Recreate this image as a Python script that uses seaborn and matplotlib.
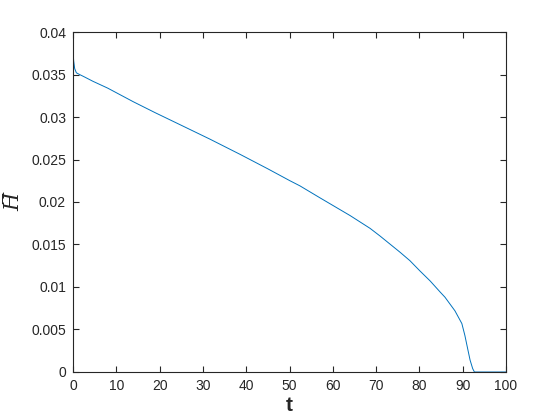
"""
plot.py
Curva de H promedio frente a t (estilo MATLAB) recreada con seaborn.
"""

import pandas as pd
import matplotlib
matplotlib.use('Agg')
import matplotlib.pyplot as plt
import seaborn as sns

# Datos
t_vals = [0.0, 0.15, 0.38, 0.77, 1.5, 2.5, 4.6, 8.0, 13.9, 19.0, 24.7,
          31.6, 38.6, 45.0, 50.1, 52.4, 57.0, 64.0, 68.6, 70.9, 75.5, 77.8,
          80.1, 82.5, 84.8, 85.9, 88.2, 89.8, 90.5, 91.2, 91.7, 92.3, 92.7,
          100.0]
h_vals = [0.0377, 0.0366, 0.0357, 0.0352, 0.0350, 0.03475, 0.0342, 0.0334,
          0.0318, 0.0305, 0.0291, 0.0274, 0.0256, 0.0239, 0.0225, 0.0219,
          0.0205, 0.0184, 0.0169, 0.0160, 0.0141, 0.0131, 0.0119, 0.0107,
          0.0094, 0.0088, 0.0072, 0.0057, 0.0043, 0.0026, 0.0014, 0.0004,
          0.0, 0.0]

x_ticks = [0, 10, 20, 30, 40, 50, 60, 70, 80, 90, 100]
y_ticks = [0, 0.005, 0.01, 0.015, 0.02, 0.025, 0.03, 0.035, 0.04]
y_labels = ['0', '0.005', '0.01', '0.015', '0.02', '0.025', '0.03', '0.035', '0.04']

df = pd.DataFrame({'t': t_vals, 'H': h_vals})

sns.set_theme(style='ticks')
plt.rcParams['font.family'] = ['Liberation Sans', 'DejaVu Sans']

fig = plt.figure(figsize=(5.6, 4.2), dpi=100)
ax = fig.add_axes([0.1304, 0.1143, 0.7732, 0.8095])

sns.lineplot(data=df, x='t', y='H', ax=ax, color='#0072BD', linewidth=0.7)

ax.set_xlim(0, 100)
ax.set_ylim(0, 0.04)
ax.set_xticks(x_ticks)
ax.set_xticklabels([str(v) for v in x_ticks])
ax.set_yticks(y_ticks)
ax.set_yticklabels(y_labels)

axis_col = '#262626'
for s in ax.spines.values():
    s.set_visible(True)
    s.set_color(axis_col)
    s.set_linewidth(0.8)
ax.tick_params(direction='in', length=4, width=0.8, colors=axis_col,
               labelsize=10, top=True, right=True, pad=5)

ax.set_xlabel('t', fontsize=15, fontweight='bold', color=axis_col, labelpad=2)
# H con barra superior (carácter combinante U+0305)
ax.set_ylabel('H\u0305', fontsize=15, color=axis_col, labelpad=6,
              family=['DejaVu Serif'], style='italic')

fig.savefig('out.png', dpi=100)
